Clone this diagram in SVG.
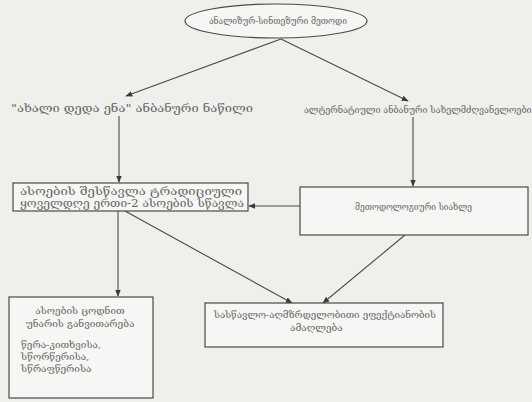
<svg xmlns="http://www.w3.org/2000/svg" width="532" height="402" viewBox="0 0 532 402">
<defs>
<marker id="ah" viewBox="0 0 10 10" refX="9" refY="5" markerWidth="7" markerHeight="7" orient="auto" markerUnits="userSpaceOnUse">
<path d="M0,1 L10,5 L0,9 z" fill="#3a3a3a"/>
</marker>
<style>
.bg{fill:#efefec}
.box{fill:#f6f6f4;stroke:#4a4a4a;stroke-width:1.2}
.ln{stroke:#4a4a4a;stroke-width:1.1;fill:none}
text{font-family:"DejaVu Serif","DejaVu Sans",serif;font-size:10px;fill:#666666}
.c{text-anchor:middle}
.l{font-size:11px}
.s{font-size:9px}
</style>
</defs>
<rect class="bg" x="0" y="0" width="532" height="402"/>
<g id="connectors">
<line class="ln" x1="281" y1="39" x2="126" y2="96" marker-end="url(#ah)"/>
<line class="ln" x1="281" y1="39" x2="408" y2="101" marker-end="url(#ah)"/>
<line class="ln" x1="119" y1="116" x2="119" y2="182" marker-end="url(#ah)"/>
<line class="ln" x1="413" y1="117" x2="413" y2="186" marker-end="url(#ah)"/>
<line class="ln" x1="300" y1="206" x2="249" y2="206" marker-end="url(#ah)"/>
<line class="ln" x1="118" y1="211" x2="118" y2="296" marker-end="url(#ah)"/>
<line class="ln" x1="125" y1="211" x2="292" y2="303" marker-end="url(#ah)"/>
<line class="ln" x1="405" y1="235" x2="323" y2="303" marker-end="url(#ah)"/>
</g>
<g id="n-top">
<ellipse class="box" cx="276" cy="21" rx="91" ry="17"/>
<text x="209" y="24" textLength="138" lengthAdjust="spacingAndGlyphs">ანალიზურ-სინთეზური მეთოდი</text>
</g>
<g id="n-left-label">
<text class="l" x="11" y="112" textLength="242" lengthAdjust="spacingAndGlyphs">"ახალი დედა ენა" ანბანური ნაწილი</text>
</g>
<g id="n-right-label">
<text class="s" x="304" y="113">ალტერნატიული ანბანური სახელმძღვანელოები</text>
</g>
<g id="n-mid-left">
<rect class="box" x="13" y="183" width="235" height="28"/>
<text class="l" x="20" y="195" textLength="222" lengthAdjust="spacingAndGlyphs">ასოების შესწავლა ტრადიციული</text>
<text class="l" x="20" y="207" textLength="224" lengthAdjust="spacingAndGlyphs">ყოველდღე ერთი-2 ასოების სწავლა</text>
</g>
<g id="n-mid-right">
<rect class="box" x="300" y="187" width="228" height="48"/>
<text x="355" y="210" textLength="117" lengthAdjust="spacingAndGlyphs">მეთოდოლოგიური სიახლე</text>
</g>
<g id="n-bottom-left">
<rect class="box" x="9" y="297" width="144" height="101"/>
<text class="c" x="80" y="314">ასოების ცოდნით</text>
<text class="c" x="80" y="327">უნარის განვითარება</text>
<text x="21" y="348">წერა-კითხვისა,</text>
<text x="21" y="360">სწორწერისა,</text>
<text x="21" y="372">სწრაფწერისა</text>
</g>
<g id="n-bottom-mid">
<rect class="box" x="205" y="303" width="238" height="44"/>
<text x="214" y="318" textLength="222" lengthAdjust="spacingAndGlyphs">სასწავლო-აღმზრდელობითი ეფექტიანობის</text>
<text x="290" y="331">ამაღლება</text>
</g>
</svg>
